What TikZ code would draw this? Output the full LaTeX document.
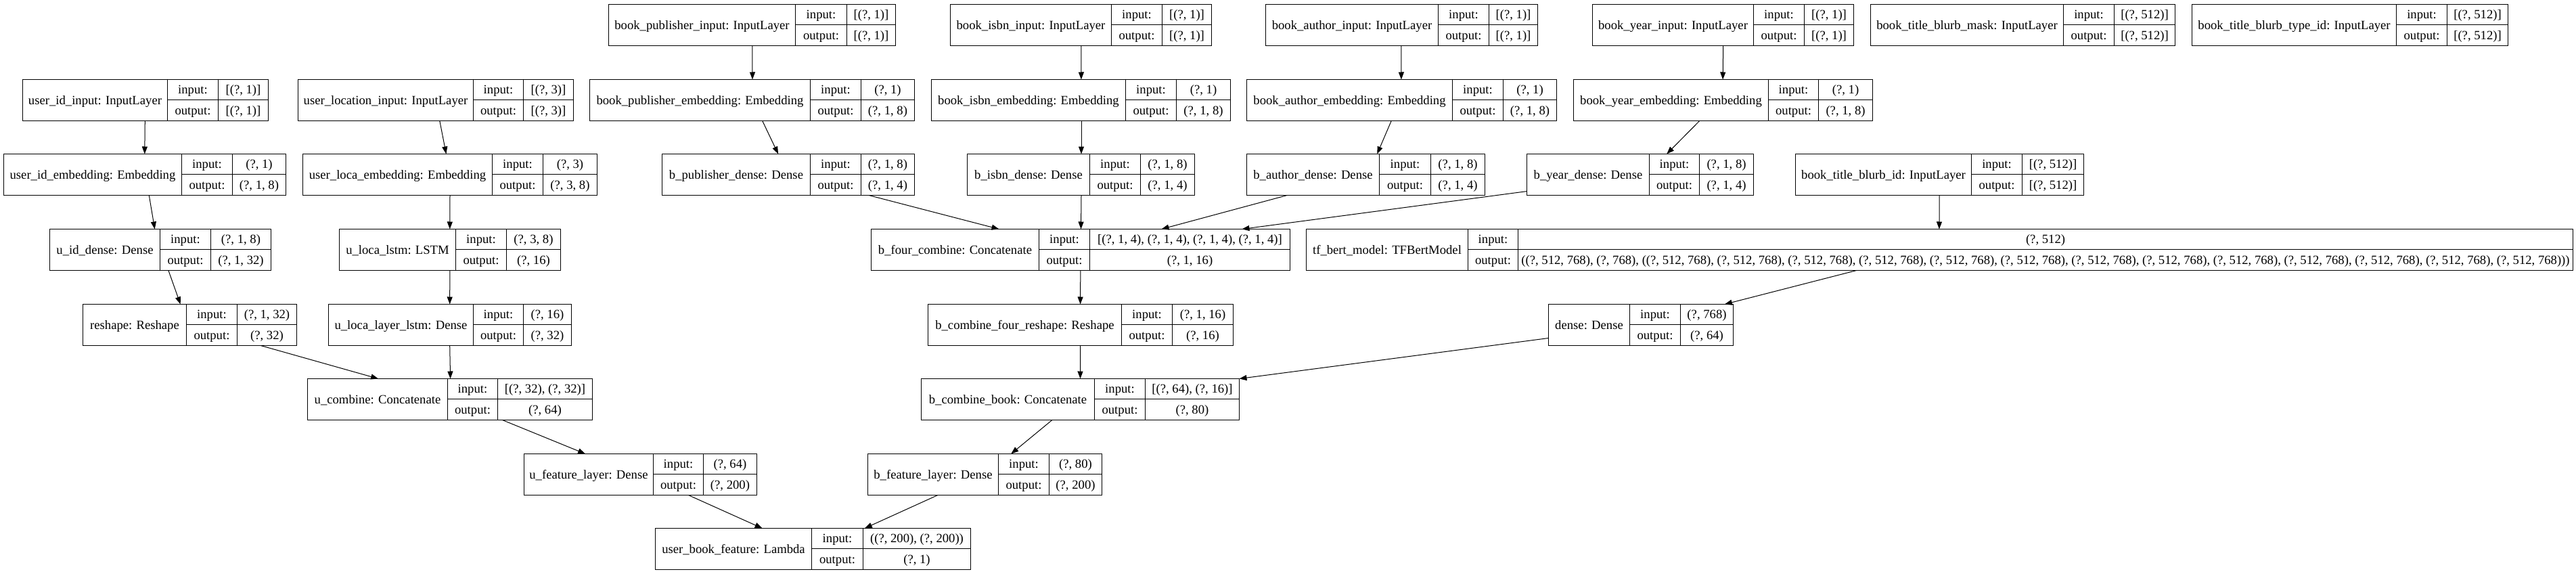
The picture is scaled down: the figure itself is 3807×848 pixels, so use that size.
\documentclass[tikz,border=0pt]{standalone}
\usepackage{fontspec}
\setmainfont{Liberation Serif}
\usetikzlibrary{arrows.meta}
% #1 name, #2 x0, #3 x1, #4 x2, #5 x3, #6 ytop, #7 label, #8 input, #9 output
\newcommand\krl[9]{%
  \pgfmathsetmacro\krXa{round(#2)+0.5}%
  \pgfmathsetmacro\krXb{round(#3)+0.5}%
  \pgfmathsetmacro\krXc{round(#4)+0.5}%
  \pgfmathsetmacro\krXd{round(#5)+0.5}%
  \pgfmathsetmacro\krY{round(#6)+0.5}%
  \node[kbox, minimum width={(\krXd-\krXa)*1pt}, anchor=north west] (#1) at (\krXa,\krY) {};
  \draw[kline] (\krXb,\krY) -- (\krXb,\krY+61);
  \draw[kline] (\krXc,\krY) -- (\krXc,\krY+61);
  \draw[kline] (\krXb,\krY+30) -- (\krXd,\krY+30);
  \node[ktxt] (#1-n) at ({(\krXa+\krXb)/2},{\krY+30.5}) {#7};
  \node[ktxt] (#1-il) at ({(\krXb+\krXc)/2},{\krY+15.2}) {input:};
  \node[ktxt] (#1-ol) at ({(\krXb+\krXc)/2},{\krY+45.8}) {output:};
  \node[ktxt] (#1-iv) at ({(\krXc+\krXd)/2},{\krY+15.2}) {#8};
  \node[ktxt] (#1-ov) at ({(\krXc+\krXd)/2},{\krY+45.8}) {#9};
}
\newcommand\bertout{((?, 512, 768), (?, 768), ((?, 512, 768), (?, 512, 768), (?, 512, 768), (?, 512, 768), (?, 512, 768), (?, 512, 768), (?, 512, 768), (?, 512, 768), (?, 512, 768), (?, 512, 768), (?, 512, 768), (?, 512, 768), (?, 512, 768)))}
\begin{document}
\begin{tikzpicture}[x=1pt,y=-1pt,
  kbox/.style={draw, line width=1pt, minimum height=61pt, inner sep=0pt, outer sep=0pt},
  kline/.style={line width=1pt},
  ktxt/.style={inner sep=0pt, text height=12.5pt, text depth=0pt, font=\fontsize{18.67}{22}\selectfont},
  karr/.style={line width=1pt, -{Triangle[length=11pt,width=8pt]}}]
\useasboundingbox (0,0) rectangle (3807,848);
% Row A
\krl{bpubin}{899.1}{1175.3}{1250.5}{1322.6}{5.7}{book\_publisher\_input: InputLayer}{[(?, 1)]}{[(?, 1)]}
\krl{bisbnin}{1403.6}{1641.5}{1716.8}{1789.5}{5.7}{book\_isbn\_input: InputLayer}{[(?, 1)]}{[(?, 1)]}
\krl{bauthin}{1870.4}{2124.9}{2199.5}{2272.2}{5.7}{book\_author\_input: InputLayer}{[(?, 1)]}{[(?, 1)]}
\krl{byearin}{2352.6}{2591.1}{2666.4}{2739.1}{5.7}{book\_year\_input: InputLayer}{[(?, 1)]}{[(?, 1)]}
\krl{bmask}{2764}{3048.5}{3123.7}{3213.6}{5.7}{book\_title\_blurb\_mask: InputLayer}{[(?, 512)]}{[(?, 512)]}
\krl{btype}{3238.6}{3541.1}{3615.6}{3706.2}{5.7}{book\_title\_blurb\_type\_id: InputLayer}{[(?, 512)]}{[(?, 512)]}
% Row B
\krl{uidin}{32.7}{247.4}{322}{395.5}{116.7}{user\_id\_input: InputLayer}{[(?, 1)]}{[(?, 1)]}
\krl{ulocin}{439.7}{698.5}{773.2}{846.7}{116.7}{user\_location\_input: InputLayer}{[(?, 3)]}{[(?, 3)]}
\krl{bpubemb}{871}{1197}{1271.6}{1351.3}{116.7}{book\_publisher\_embedding: Embedding}{(?, 1)}{(?, 1, 8)}
\krl{bisbnemb}{1375.5}{1663.2}{1738.4}{1817.6}{116.7}{book\_isbn\_embedding: Embedding}{(?, 1)}{(?, 1, 8)}
\krl{bauthemb}{1842.3}{2145.9}{2220.6}{2300.3}{116.7}{book\_author\_embedding: Embedding}{(?, 1)}{(?, 1, 8)}
\krl{byearemb}{2325.2}{2612.8}{2687.4}{2766.5}{116.7}{book\_year\_embedding: Embedding}{(?, 1)}{(?, 1, 8)}
% Row C
\krl{uidemb}{5.2}{267.5}{342.7}{422.4}{227.3}{user\_id\_embedding: Embedding}{(?, 1)}{(?, 1, 8)}
\krl{ulocemb}{447.1}{726.7}{801.9}{881.6}{227.3}{user\_loca\_embedding: Embedding}{(?, 3)}{(?, 3, 8)}
\krl{bpubd}{978.2}{1197}{1271.6}{1351.3}{227.3}{b\_publisher\_dense: Dense}{(?, 1, 8)}{(?, 1, 4)}
\krl{bisbnd}{1428.5}{1609.6}{1684.9}{1764.6}{227.3}{b\_isbn\_dense: Dense}{(?, 1, 8)}{(?, 1, 4)}
\krl{bauthd}{1842.3}{2038.3}{2114}{2193.6}{227.3}{b\_author\_dense: Dense}{(?, 1, 8)}{(?, 1, 4)}
\krl{byeard}{2255.6}{2436.8}{2511.4}{2590.5}{227.3}{b\_year\_dense: Dense}{(?, 1, 8)}{(?, 1, 4)}
\krl{bblurb}{2653}{2913}{2987.5}{3078.5}{227.3}{book\_title\_blurb\_id: InputLayer}{[(?, 512)]}{[(?, 512)]}
% Row D
\krl{uidd}{73.3}{236}{310.6}{399.9}{337.7}{u\_id\_dense: Dense}{(?, 1, 8)}{(?, 1, 32)}
\krl{ulstm}{501.3}{672.9}{747.5}{827.9}{337.7}{u\_loca\_lstm: LSTM}{(?, 3, 8)}{(?, 16)}
\krl{bfour}{1287}{1535.3}{1610.4}{1905.7}{337.7}{b\_four\_combine: Concatenate}{[(?, 1, 4), (?, 1, 4), (?, 1, 4), (?, 1, 4)]}{(?, 1, 16)}
\krl{bert}{1930.3}{2168.8}{2243.2}{3802}{337.7}{tf\_bert\_model: TFBertModel}{(?, 512)}{\bertout}
% Row E
\krl{resh}{122.4}{274.9}{349.5}{438.2}{448.7}{reshape: Reshape}{(?, 1, 32)}{(?, 32)}
\krl{ulayer}{485.4}{699}{773}{843.8}{448.7}{u\_loca\_layer\_lstm: Dense}{(?, 16)}{(?, 32)}
\krl{bfourr}{1371.2}{1657.4}{1732.4}{1821.5}{448.7}{b\_combine\_four\_reshape: Reshape}{(?, 1, 16)}{(?, 16)}
\krl{dense}{2287.7}{2407.9}{2483.4}{2560.8}{448.7}{dense: Dense}{(?, 768)}{(?, 64)}
% Row F
\krl{ucomb}{453.5}{660.8}{735.4}{875}{559}{u\_combine: Concatenate}{[(?, 32), (?, 32)]}{(?, 64)}
\krl{bcomb}{1361.3}{1617.4}{1691.8}{1831.4}{559}{b\_combine\_book: Concatenate}{[(?, 64), (?, 16)]}{(?, 80)}
% Row G
\krl{ufeat}{774}{964.7}{1039.3}{1117.7}{669.7}{u\_feature\_layer: Dense}{(?, 64)}{(?, 200)}
\krl{bfeat}{1282.3}{1474.9}{1549.5}{1628}{669.7}{b\_feature\_layer: Dense}{(?, 80)}{(?, 200)}
% Row H
\krl{ubf}{967.9}{1199.4}{1274.7}{1433.5}{780.3}{user\_book\_feature: Lambda}{((?, 200), (?, 200))}{(?, 1)}
% Edges
\draw[karr] ([xshift=180.8pt]uidin.south west) -- ([xshift=208.3pt]uidemb.north west);
\draw[karr] ([xshift=209.3pt]ulocin.south west) -- ([xshift=211.9pt]ulocemb.north west);
\draw[karr] ([xshift=212.4pt]bpubin.south west) -- ([xshift=240.5pt]bpubemb.north west);
\draw[karr] ([xshift=193.3pt]bisbnin.south west) -- ([xshift=221.4pt]bisbnemb.north west);
\draw[karr] ([xshift=200.3pt]bauthin.south west) -- ([xshift=228.4pt]bauthemb.north west);
\draw[karr] ([xshift=193.2pt]byearin.south west) -- ([xshift=220.6pt]byearemb.north west);
\draw[karr] ([xshift=214.8pt]uidemb.south west) -- ([xshift=155.2pt]uidd.north west);
\draw[karr] ([xshift=217.5pt]ulocemb.south west) -- ([xshift=163.3pt]ulstm.north west);
\draw[karr] ([xshift=255.2pt]bpubemb.south west) -- ([xshift=171.6pt]bpubd.north west);
\draw[karr] ([xshift=221.5pt]bisbnemb.south west) -- ([xshift=168.5pt]bisbnd.north west);
\draw[karr] ([xshift=213.7pt]bauthemb.south west) -- ([xshift=192.7pt]bauthd.north west);
\draw[karr] ([xshift=186.2pt]byearemb.south west) -- ([xshift=206.7pt]byeard.north west);
\draw[karr] ([xshift=212.7pt]bblurb.south west) -- ([xshift=935.4pt]bert.north west);
\draw[karr] ([xshift=175.4pt]uidd.south west) -- ([xshift=144.2pt]resh.north west);
\draw[karr] ([xshift=163.3pt]ulstm.south west) -- ([xshift=179.2pt]ulayer.north west);
\draw[karr] ([xshift=305.5pt]bpubd.south west) -- ([xshift=189pt]bfour.north west);
\draw[karr] ([xshift=168.5pt]bisbnd.south west) -- ([xshift=310pt]bfour.north west);
\draw[karr] ([xshift=59.7pt]bauthd.south west) -- ([xshift=429pt]bfour.north west);
\draw[karr] ([yshift=-24.6pt]byeard.west) -- ([xshift=547.9pt]bfour.north west);
\draw[karr] ([xshift=813.2pt]bert.south west) -- ([xshift=260.3pt]dense.north west);
\draw[karr] ([xshift=262.8pt]resh.south west) -- ([xshift=104.6pt]ucomb.north west);
\draw[karr] ([xshift=179.2pt]ulayer.south west) -- ([xshift=211.1pt]ucomb.north west);
\draw[karr] ([xshift=309.3pt]bfour.south west) -- ([xshift=225.1pt]bfourr.north west);
\draw[karr] ([xshift=225.1pt]bfourr.south west) -- ([xshift=235pt]bcomb.north west);
\draw[karr] ([yshift=-19.5pt]dense.west) -- (bcomb.north east);
\draw[karr] ([xshift=288pt]ucomb.south west) -- ([xshift=90.6pt]ufeat.north west);
\draw[karr] ([xshift=193.4pt]bcomb.south west) -- ([xshift=211.7pt]bfeat.north west);
\draw[karr] ([xshift=243pt]ufeat.south west) -- ([xshift=158.1pt]ubf.north west);
\draw[karr] ([xshift=103.3pt]bfeat.south west) -- ([xshift=309.3pt]ubf.north west);
\end{tikzpicture}
\end{document}
